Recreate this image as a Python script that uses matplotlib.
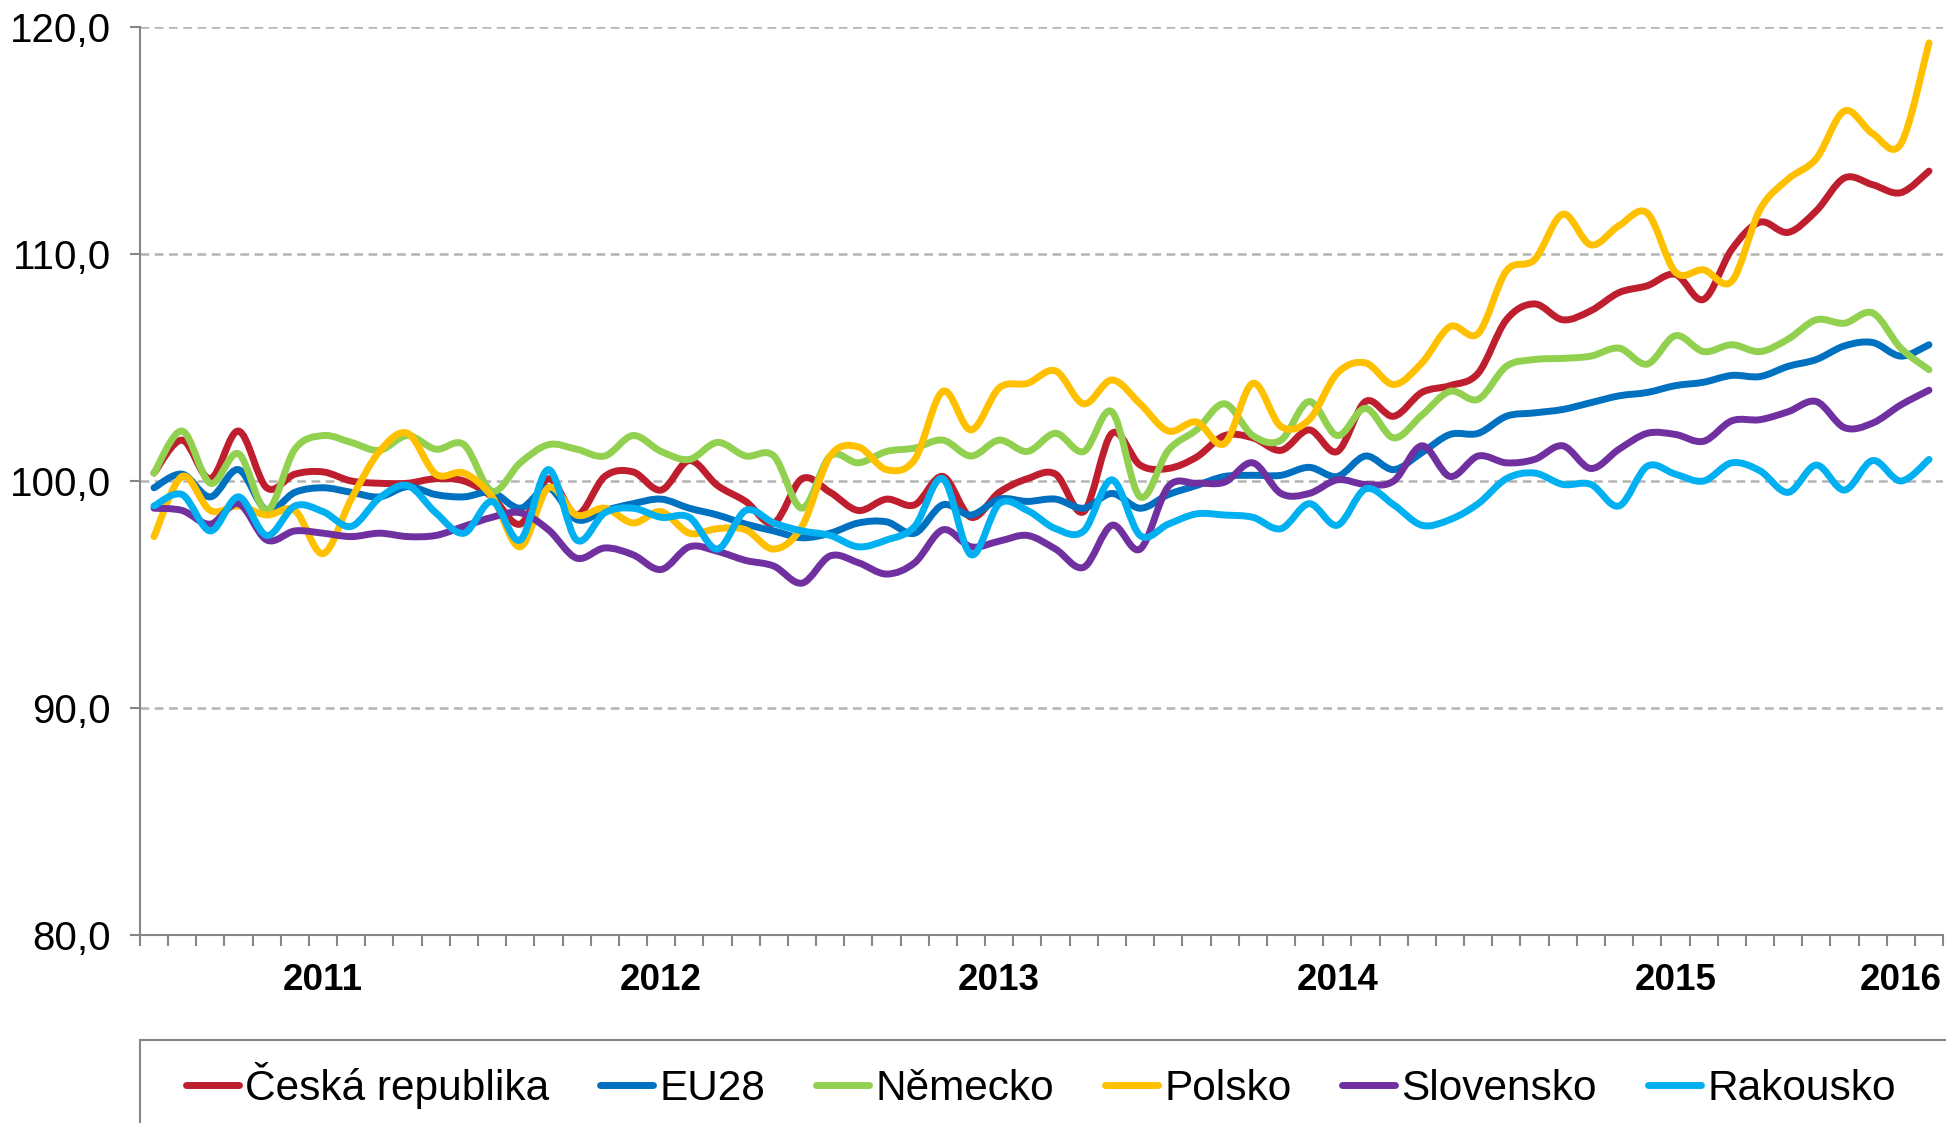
import numpy as np
import matplotlib
matplotlib.use("Agg")
import matplotlib.pyplot as plt
from matplotlib.path import Path
from matplotlib.patches import PathPatch, Rectangle
from matplotlib.lines import Line2D
from matplotlib.ticker import FuncFormatter

plt.rcParams['font.family'] = ['Liberation Sans', 'DejaVu Sans']

# monthly index values, Jan 2011 .. Apr 2016 (64 months)
cesko = [100.35, 101.8, 100.1, 102.2, 99.7, 100.3, 100.4, 100.0, 99.9, 99.9, 100.1,
         100.0, 99.3, 98.1, 100.1, 98.5, 100.2, 100.4, 99.6, 100.9, 99.8, 99.1,
         98.15, 100.1, 99.5, 98.7, 99.2, 98.95, 100.2, 98.4, 99.5, 100.1, 100.3,
         98.65, 102.1, 100.7, 100.55, 101.05, 102.0, 101.9, 101.35, 102.25, 101.3,
         103.5, 102.85, 103.9, 104.2, 104.75, 107.1, 107.8, 107.1, 107.5, 108.3, 108.6,
         109.1, 108.0, 110.2, 111.4, 110.95, 111.9, 113.35, 113.05, 112.7, 113.65]
eu28 = [99.7, 100.3, 99.3, 100.5, 98.7, 99.5, 99.7, 99.5, 99.3, 99.75, 99.4,
        99.3, 99.5, 98.8, 99.7, 98.3, 98.7, 99.0, 99.2, 98.8, 98.5, 98.1,
        97.8, 97.5, 97.7, 98.15, 98.2, 97.7, 98.95, 98.5, 99.2, 99.1, 99.2,
        98.8, 99.45, 98.8, 99.4, 99.8, 100.2, 100.25, 100.25, 100.6, 100.2,
        101.1, 100.5, 101.25, 102.05, 102.1, 102.85, 103.0, 103.15, 103.45, 103.75, 103.9,
        104.2, 104.35, 104.65, 104.6, 105.05, 105.35, 105.95, 106.1, 105.5, 106.0]
nemecko = [100.35, 102.2, 99.9, 101.2, 98.7, 101.4, 102.0, 101.7, 101.35, 102.0, 101.4,
           101.6, 99.55, 100.8, 101.6, 101.4, 101.1, 102.0, 101.3, 100.95, 101.7, 101.1,
           101.1, 98.8, 101.1, 100.8, 101.3, 101.45, 101.8, 101.1, 101.8, 101.3, 102.1,
           101.3, 103.05, 99.3, 101.35, 102.25, 103.4, 102.0, 101.8, 103.5, 102.0,
           103.2, 101.9, 102.9, 103.95, 103.6, 105.05, 105.35, 105.4, 105.5, 105.85, 105.15,
           106.4, 105.7, 106.0, 105.7, 106.25, 107.1, 106.95, 107.4, 105.85, 104.9]
polsko = [97.55, 100.2, 98.7, 98.9, 98.5, 98.7, 96.8, 99.2, 101.3, 102.1, 100.3,
          100.35, 99.3, 97.1, 99.7, 98.5, 98.8, 98.15, 98.65, 97.7, 97.9, 97.85,
          97.0, 98.0, 101.1, 101.5, 100.5, 100.95, 103.95, 102.25, 104.1, 104.3, 104.85,
          103.4, 104.45, 103.4, 102.2, 102.6, 101.65, 104.3, 102.4, 102.7, 104.75,
          105.2, 104.25, 105.2, 106.8, 106.5, 109.25, 109.75, 111.75, 110.4, 111.25, 111.8,
          109.2, 109.3, 108.8, 111.95, 113.3, 114.2, 116.3, 115.3, 114.85, 119.3]
slovensko = [98.8, 98.7, 98.1, 99.0, 97.4, 97.8, 97.7, 97.55, 97.7, 97.55, 97.6,
             98.0, 98.4, 98.6, 97.85, 96.6, 97.05, 96.75, 96.1, 97.1, 96.9, 96.5,
             96.25, 95.5, 96.7, 96.4, 95.9, 96.4, 97.85, 97.1, 97.35, 97.6, 97.0,
             96.2, 98.05, 97.0, 99.75, 99.9, 99.95, 100.8, 99.45, 99.45, 100.05,
             99.85, 100.0, 101.55, 100.2, 101.1, 100.8, 100.95, 101.55, 100.55, 101.4, 102.1,
             102.05, 101.75, 102.65, 102.7, 103.05, 103.5, 102.35, 102.55, 103.35, 104.0]
rakousko = [98.9, 99.4, 97.8, 99.3, 97.6, 98.9, 98.65, 98.0, 99.25, 99.8, 98.6,
            97.7, 99.1, 97.4, 100.5, 97.4, 98.6, 98.8, 98.4, 98.4, 97.0, 98.7,
            98.15, 97.8, 97.6, 97.1, 97.4, 98.0, 100.1, 96.75, 99.0, 98.7, 97.9,
            97.8, 100.05, 97.6, 98.1, 98.55, 98.5, 98.4, 97.9, 99.0, 98.05,
            99.65, 98.95, 98.05, 98.3, 99.0, 100.1, 100.35, 99.85, 99.85, 98.9, 100.65,
            100.3, 100.0, 100.8, 100.45, 99.5, 100.7, 99.6, 100.9, 100.0, 100.95]

labels = ['Česká republika', 'EU28', 'Německo', 'Polsko', 'Slovensko', 'Rakousko']
colors = ['#BE1E2D', '#0070C0', '#92D050', '#FFC000', '#7030A0', '#00B0F0']
series = [cesko, eu28, nemecko, polsko, slovensko, rakousko]
years = ['2011', '2012', '2013', '2014', '2015', '2016']
year_pos = [6, 18, 30, 42, 54, 62]


def smooth_path(y):
    # Excel-like smoothed line: Catmull-Rom segments as cubic Bezier curves
    x = np.arange(len(y), dtype=float)
    y = np.asarray(y, dtype=float)
    n = len(y)
    verts = [(x[0], y[0])]
    codes = [Path.MOVETO]
    for k in range(n - 1):
        p0 = k - 1 if k > 0 else k
        p3 = k + 2 if k + 2 < n else k + 1
        c1 = (x[k] + (x[k + 1] - x[p0]) / 6, y[k] + (y[k + 1] - y[p0]) / 6)
        c2 = (x[k + 1] - (x[p3] - x[k]) / 6, y[k + 1] - (y[p3] - y[k]) / 6)
        verts += [c1, c2, (x[k + 1], y[k + 1])]
        codes += [Path.CURVE4] * 3
    return Path(verts, codes)


fig = plt.figure(figsize=(19.46, 11.23), dpi=100)
ax = fig.add_axes([0.0719, 0.1674, 0.9266, 0.8086])

for vals, col in zip(series, colors):
    ax.add_patch(PathPatch(smooth_path(vals), facecolor='none', edgecolor=col,
                           lw=5.0, capstyle='round', joinstyle='round', zorder=3))

ax.set_xlim(-0.5, len(cesko) - 0.5)
ax.set_ylim(80, 120)
ax.set_yticks([80, 90, 100, 110, 120])
ax.yaxis.set_major_formatter(FuncFormatter(lambda v, p: f'{v:.1f}'.replace('.', ',')))
ax.grid(axis='y', color='#B4B4B4', linestyle=(0, (3.5, 2.2)), lw=1.8, zorder=1)

ax.set_xticks(np.arange(-0.5, len(cesko), 1.0))
ax.set_xticklabels([])
ax.set_xticks(year_pos, minor=True)
ax.set_xticklabels(years, minor=True, fontsize=26.5, fontweight='bold')
ax.tick_params(axis='x', which='major', direction='out', length=8, width=1.5, color='#868686')
ax.tick_params(axis='x', which='minor', length=0, pad=20)
ax.tick_params(axis='y', direction='out', length=7, width=1.5, color='#868686',
               labelsize=29, pad=14)

for side in ['top', 'right']:
    ax.spines[side].set_visible(False)
for side in ['left', 'bottom']:
    ax.spines[side].set_color('#868686')
    ax.spines[side].set_linewidth(1.5)

# legend box runs off the bottom/right edge of the picture
fig.patches.append(Rectangle((0.0719, -0.2), 1.2, 0.2 + 0.0739, transform=fig.transFigure,
                             facecolor='none', edgecolor='#868686', lw=1.5))
handles = [Line2D([], [], color=c, lw=5.0, solid_capstyle='round') for c in colors]
fig.legend(handles, labels, loc='center left', bbox_to_anchor=(0.0868, 0.0338), ncol=6,
           frameon=False, fontsize=30.5, handlelength=1.25, handletextpad=0.15,
           columnspacing=1.2, borderaxespad=0)

fig.savefig('out.png', dpi=100)
